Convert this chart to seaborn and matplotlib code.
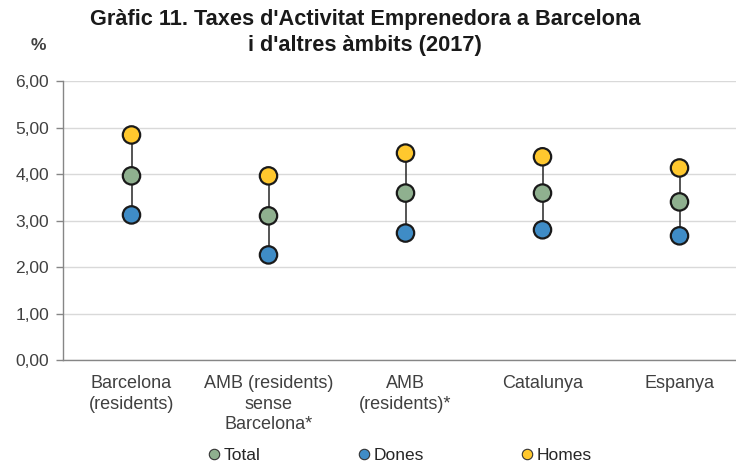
import matplotlib
matplotlib.use("Agg")
import matplotlib.pyplot as plt
import seaborn as sns
import pandas as pd
import numpy as np
from matplotlib.lines import Line2D

categories = ["Barcelona\n(residents)", "AMB (residents)\nsense\nBarcelona*",
              "AMB\n(residents)*", "Catalunya", "Espanya"]
total = [3.96, 3.10, 3.59, 3.59, 3.40]
dones = [3.12, 2.26, 2.73, 2.80, 2.67]
homes = [4.84, 3.96, 4.45, 4.37, 4.13]
yticks = [0, 1, 2, 3, 4, 5, 6]
series_names = ["Total", "Dones", "Homes"]
colors = {"Total": "#8FB08F", "Dones": "#3F8CC6", "Homes": "#FFC82E"}

sns.set_style("white")
plt.rcParams["font.family"] = ["Liberation Sans", "DejaVu Sans"]

df = pd.DataFrame({
    "cat": categories * 3,
    "val": total + dones + homes,
    "serie": ["Total"] * 5 + ["Dones"] * 5 + ["Homes"] * 5,
})

fig = plt.figure(figsize=(7.36, 4.67), dpi=100)
ax = fig.add_axes([63 / 736, 1 - 360 / 467, (748 - 63) / 736, (360 - 81) / 467])

ax.vlines(range(len(categories)), dones, homes, color="#262626", lw=1.1, zorder=2)
sns.stripplot(data=df, x="cat", y="val", hue="serie", palette=colors,
              jitter=False, dodge=False, size=12.5, linewidth=1.6,
              edgecolor="#1a1a1a", ax=ax, legend=False, zorder=3, order=categories)

ax.set_xlim(-0.5, len(categories) - 0.5)
ax.set_ylim(0, 6)
ax.set_yticks(yticks)
ax.set_yticklabels([f"{v:.2f}".replace(".", ",") for v in yticks], fontsize=12.5, color="#404040")
ax.yaxis.grid(True, color="#D9D9D9", lw=1)
ax.set_axisbelow(True)
ax.set_xlabel("")
ax.set_ylabel("")
ax.set_xticks(range(len(categories)))
ax.set_xticklabels(categories, fontsize=13, color="#404040", linespacing=1.25)
ax.set_xticks(np.arange(0.5, len(categories) - 0.5, 1), minor=True)
ax.tick_params(axis="x", which="major", length=0, pad=11)
ax.tick_params(axis="x", which="minor", length=5, color="#868686", width=1, direction="out")
ax.tick_params(axis="y", length=5, color="#868686", width=1, direction="out", left=True, pad=5)
for s in ["top", "right"]:
    ax.spines[s].set_visible(False)
for s in ["left", "bottom"]:
    ax.spines[s].set_color("#868686")
    ax.spines[s].set_linewidth(1)

fig.text(0.5 - 3 / 736, 1 - 20 / 467, "Gràfic 11. Taxes d'Activitat Emprenedora a Barcelona",
         ha="center", va="center", fontsize=15.7, fontweight="bold", color="#1a1a1a")
fig.text(0.5 - 3 / 736, 1 - 45 / 467, "i d'altres àmbits (2017)",
         ha="center", va="center", fontsize=15.7, fontweight="bold", color="#1a1a1a")
fig.text(38 / 736, 1 - 45 / 467, "%", ha="center", va="center", fontsize=12.5,
         fontweight="bold", color="#404040")

handles = [Line2D([], [], marker="o", ls="", markersize=7.5, markerfacecolor=colors[n],
                  markeredgecolor="#333333", markeredgewidth=0.8, label=n) for n in series_names]
leg = fig.legend(handles=handles, ncol=3, loc="center", bbox_to_anchor=(400 / 736, 1 - 455 / 467),
                 frameon=False, fontsize=12.5, handlelength=0.7, handletextpad=0.2,
                 columnspacing=5.6, labelcolor="#262626")

fig.savefig("out.png", dpi=100)
